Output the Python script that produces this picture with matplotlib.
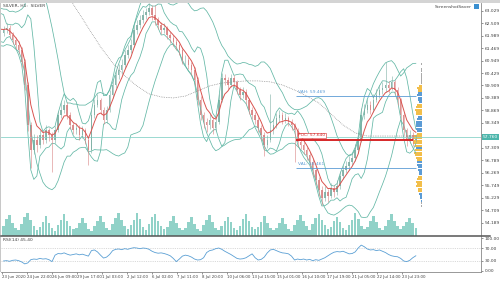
import numpy as np
import pandas as pd
import matplotlib
matplotlib.use("Agg")
import matplotlib.pyplot as plt
from matplotlib.patches import Rectangle
from matplotlib.lines import Line2D

# ---------------- data ----------------
title_text = "SILVER, H1:  SILVER"
saver_text = "ScreenshotSaver"

pre_closes = [62.60, 61.90, 62.85, 62.05, 62.70, 61.70, 62.55, 62.95, 61.95, 62.45, 62.80, 61.95, 62.35, 62.10]

closes = [62.22, 62.31, 62.02, 61.81, 61.60, 61.39, 60.89, 59.93, 58.26, 57.22,
          57.64, 57.43, 57.85, 57.64, 58.05, 57.85, 57.64, 58.05, 58.68, 58.89,
          59.10, 58.68, 58.26, 58.05, 58.14, 57.85, 58.05, 57.64, 57.22, 58.68,
          59.10, 59.31, 58.89, 58.47, 58.89, 59.51, 59.93, 60.35, 60.56, 60.76,
          61.18, 61.39, 61.60, 62.22, 62.43, 62.64, 62.85, 62.98, 63.14, 62.85,
          62.64, 62.43, 62.22, 62.31, 62.02, 61.89, 61.72, 61.60, 61.39, 60.97,
          60.97, 60.76, 60.56, 60.14, 59.31, 58.68, 58.39, 58.26, 58.47, 58.14,
          58.39, 59.31, 60.22, 60.14, 59.93, 60.22, 60.06, 59.72, 59.51, 59.64,
          59.31, 58.89, 58.68, 58.47, 58.14, 57.85, 57.43, 57.64, 58.05, 58.26,
          58.55, 58.68, 58.47, 58.55, 58.39, 58.26, 58.05, 57.55, 57.43, 57.22,
          57.01, 56.72, 56.39, 55.97, 55.55, 55.22, 55.47, 55.30, 55.64, 55.47,
          55.72, 56.14, 56.39, 56.55, 56.72, 56.89, 57.22, 57.64, 58.68, 58.89,
          59.10, 58.89, 59.31, 59.51, 59.72, 59.81, 59.93, 59.81, 60.06, 59.72,
          59.31, 58.68, 58.05, 57.64, 57.85, 57.64, 57.76]

highs = [62.40, 62.50, 62.42, 62.15, 61.95, 61.75, 61.50, 61.00, 60.05, 58.40,
         57.90, 57.85, 58.05, 58.00, 58.25, 58.15, 57.95, 58.20, 58.85, 59.20,
         59.30, 59.20, 58.80, 58.40, 58.35, 58.25, 58.20, 58.15, 57.75, 58.90,
         59.35, 59.55, 59.40, 59.00, 59.05, 59.70, 60.15, 60.55, 60.80, 61.00,
         61.40, 61.60, 61.85, 62.45, 62.65, 62.85, 63.05, 63.15, 63.35, 63.25,
         63.25, 62.75, 62.55, 62.50, 62.40, 62.15, 62.00, 61.85, 61.70, 61.50,
         61.20, 61.10, 60.90, 60.70, 60.25, 59.45, 58.80, 58.55, 58.70, 58.60,
         58.60, 59.55, 60.45, 60.40, 60.25, 60.40, 60.35, 60.15, 59.85, 59.85,
         59.75, 59.40, 59.00, 58.80, 58.60, 58.25, 57.95, 57.85, 59.55, 58.50,
         58.75, 58.90, 58.80, 58.75, 58.65, 58.50, 58.35, 58.15, 57.70, 57.55,
         57.35, 57.15, 56.85, 56.50, 56.10, 55.70, 55.70, 55.60, 55.85, 55.75,
         55.95, 56.35, 56.60, 56.75, 56.95, 57.10, 57.45, 57.90, 58.95, 59.15,
         59.35, 59.25, 59.55, 59.75, 59.95, 60.05, 60.89, 60.10, 60.30, 60.15,
         59.85, 59.40, 58.80, 58.15, 58.05, 57.95, 57.90]

lows = [61.98, 62.10, 61.90, 61.65, 61.45, 61.25, 60.70, 59.70, 58.00, 56.45,
        57.05, 57.15, 57.30, 57.45, 57.50, 57.60, 56.30, 57.50, 57.95, 58.55,
        58.75, 58.50, 58.10, 57.90, 57.90, 57.65, 57.70, 57.45, 56.60, 57.10,
        58.55, 59.00, 58.70, 58.30, 58.35, 58.80, 59.40, 59.80, 60.20, 60.40,
        60.65, 61.05, 61.25, 61.50, 62.05, 62.30, 62.50, 62.70, 62.85, 62.65,
        62.45, 62.25, 62.05, 62.10, 61.85, 61.70, 61.55, 61.40, 61.20, 60.80,
        60.75, 60.60, 60.35, 59.95, 59.10, 58.45, 58.15, 57.95, 58.10, 57.90,
        58.00, 58.30, 59.20, 59.95, 59.75, 59.85, 59.90, 59.55, 59.30, 59.40,
        59.15, 58.70, 58.50, 58.30, 57.95, 57.65, 56.95, 57.30, 57.55, 57.90,
        58.15, 58.40, 58.30, 58.35, 58.20, 58.05, 56.70, 57.35, 57.25, 57.05,
        56.80, 56.50, 56.15, 55.75, 55.30, 54.93, 55.10, 55.05, 55.20, 55.25,
        55.35, 55.60, 56.00, 56.25, 56.40, 56.60, 56.75, 57.10, 57.55, 58.50,
        58.75, 58.70, 58.80, 59.20, 59.40, 59.55, 59.65, 59.60, 59.70, 59.55,
        59.10, 58.45, 57.85, 57.40, 57.50, 57.40, 57.55]

volumes = [45, 72, 92, 58, 33, 24, 52, 83, 100, 68, 41, 28,
           38, 62, 86, 57, 36, 22, 47, 70, 93, 64, 42, 30,
           34, 57, 78, 55, 29, 20, 42, 66, 88, 61, 35, 26,
           50, 77, 97, 71, 44, 31, 46, 69, 99, 74, 39, 28,
           52, 81, 94, 63, 41, 29, 38, 64, 87, 56, 33, 24,
           36, 59, 82, 53, 31, 23, 46, 71, 91, 62, 36, 26,
           41, 63, 84, 61, 34, 24, 44, 72, 96, 66, 40, 29,
           39, 61, 86, 54, 36, 25, 35, 56, 79, 51, 31, 22,
           46, 69, 92, 64, 41, 28, 51, 76, 95, 69, 46, 31,
           39, 66, 84, 59, 34, 26, 47, 71, 98, 73, 41, 30,
           40, 64, 86, 61, 35, 24, 44, 70, 94, 64, 41, 29,
           42, 61, 79, 56, 36]

rsi_values = [30, 31, 29, 32, 33, 31, 27, 21, 24, 34, 36, 35, 38, 36, 37, 34, 28, 48, 53, 52,
              55, 51, 48, 50, 52, 49, 51, 48, 45, 62, 64, 58, 48, 39, 42, 50, 62, 66, 67, 65,
              68, 66, 69, 71, 70, 68, 70, 69, 66, 60, 56, 54, 55, 53, 50, 46, 38, 28, 36, 45,
              48, 46, 42, 36, 33, 34, 40, 56, 62, 64, 68, 70, 66, 60, 55, 50, 44, 38, 36, 37,
              40, 46, 52, 40, 33, 35, 42, 55, 64, 66, 62, 58, 55, 54, 52, 45, 33, 36, 34, 36,
              33, 35, 31, 34, 32, 36, 40, 46, 52, 57, 59, 58, 60, 56, 52, 53, 58, 70, 79, 74,
              67, 64, 65, 62, 64, 60, 56, 50, 46, 44, 43, 38, 30, 28, 32, 40, 46]

# slow moving average, one value for every 4th bar
slow_ma = [67.65, 67.02, 66.31, 65.56, 64.73, 63.89, 63.10, 62.31, 61.52, 60.85,
           60.31, 59.89, 59.56, 59.43, 59.39, 59.47, 59.68, 59.89, 60.01, 60.06,
           60.10, 60.10, 60.06, 59.93, 59.72, 59.47, 59.18, 58.72, 58.26, 57.93,
           57.80, 57.80, 57.80, 57.80, 57.80]

price_ticks = [63.029, 62.509, 61.989, 61.469, 60.949, 60.429, 59.909, 59.389, 58.869,
               58.349, 57.829, 57.309, 56.789, 56.269, 55.749, 55.229, 54.709, 54.189]

date_labels = ["23 Jun 2020", "24 Jun 22:00", "26 Jun 09:00", "29 Jun 17:00", "1 Jul 03:00",
               "2 Jul 12:00", "6 Jul 02:00", "7 Jul 11:00", "8 Jul 20:00", "10 Jul 06:00",
               "13 Jul 15:00", "15 Jul 01:00", "16 Jul 10:00", "17 Jul 19:00", "21 Jul 05:00",
               "22 Jul 14:00", "23 Jul 23:00"]

rsi_ticks = [0, 30, 70, 100]
rsi_label = "RSI(14) 45.40"

current_price = 57.76
vah_price, poc_price, val_price = 59.469, 57.640, 56.461

profile_levels = [61.0, 60.9, 60.8, 60.7, 60.6, 60.5, 60.4, 60.3, 60.2, 60.1, 60.0,
                  59.9, 59.8, 59.7, 59.6, 59.5, 59.4, 59.3, 59.2, 59.1, 59.0,
                  58.9, 58.8, 58.7, 58.6, 58.5, 58.4, 58.3, 58.2, 58.1, 58.0,
                  57.9, 57.8, 57.7, 57.6, 57.5, 57.4, 57.3, 57.2, 57.1, 57.0,
                  56.9, 56.8, 56.7, 56.6, 56.5, 56.4, 56.3, 56.2, 56.1, 56.0,
                  55.9, 55.8, 55.7, 55.6, 55.5, 55.4, 55.3, 55.2, 55.1, 55.0, 54.9]
profile_volume = [.04, .04, .05, .04, .05, .05, .06, .05, .06, .08, .10,
                  .35, .50, .40, .45, .50, .42, .48, .30, .55, .70,
                  .75, .68, .60, .40, .55, .65, .60, .70, .62, .50,
                  .55, .85, .95, 1.0, .95, .80, .60, .75, .85, .80,
                  .70, .55, .50, .55, .45, .40, .30, .35, .45, .55,
                  .60, .55, .60, .45, .40, .30, .25, .20, .15, .10, .06]
profile_side = list("ggggggggggg" "ooobbbbboo" "ooobbbbbbb" "oooooobooo" "oobbbbbboo" "ooooobbbbgg")

# ---------------- style ----------------
C_UP = "#7fb0a5"
C_DN = "#d98484"
C_BAND = "#62b7a5"
C_MA = "#d9534f"
C_VOL = "#6cc3b6"
C_RSI = "#5a9fd4"
C_CUR = "#8ad3ca"
C_BLUE = "#5b9bd5"
C_ORANGE = "#f2be4a"
TXT = "#404040"
FS = 3.2
FS_X = 2.75

BAR_HOURS = 4
TICK_HOURS = 33
PROFILE_RIGHT = 554
PROFILE_SCALE = 12
LEVELS_START, LEVELS_END = 388, 546

n_pre = len(pre_closes)
all_close = pd.Series(pre_closes + closes, dtype=float)
idx_all = np.arange(-n_pre, len(closes))
x_all = idx_all * BAR_HOURS + BAR_HOURS / 2
x = x_all[n_pre:]

opens = np.array([pre_closes[-1]] + closes[:-1])
c = np.array(closes)
h = np.array(highs)
l = np.array(lows)

def bands(series, n, k=2.0):
    m = series.rolling(n).mean()
    s = series.rolling(n).std(ddof=0)
    return m + k * s, m - k * s

bb1_up, bb1_dn = bands(all_close, 5)
bb2_up, bb2_dn = bands(all_close, 14)
ema = all_close.ewm(span=5, adjust=False).mean()

W, H = 500, 281
fig = plt.figure(figsize=(W / 100, H / 100), dpi=100)
fig.patch.set_facecolor("white")

def fx(px):
    return px / W

def fy(py):
    return 1 - py / H

XL = (-1.3, 632)

axv = fig.add_axes([fx(1), fy(236), fx(480), 26 / H])
ax = fig.add_axes([fx(1), fy(236), fx(480), 233 / H])
ar = fig.add_axes([fx(1), fy(272), fx(480), 35 / H])
for a in (ax, axv):
    a.set_facecolor("none")
axv.axis("off")

# volume
axv.bar(x, volumes, width=BAR_HOURS * 0.85, color=C_VOL, alpha=0.75, linewidth=0)
axv.set_xlim(*XL)
axv.set_ylim(0, 112)

# price
ax.set_xlim(*XL)
ax.set_ylim(53.63, 63.35)
ax.plot(x_all, bb2_up, color=C_BAND, lw=0.55)
ax.plot(x_all, bb2_dn, color=C_BAND, lw=0.55)
ax.plot(x_all, bb1_up, color=C_BAND, lw=0.55)
ax.plot(x_all, bb1_dn, color=C_BAND, lw=0.55)
ax.plot(x[::4], slow_ma, color="#777777", lw=0.5, ls=(0, (1, 1.5)))
ax.axhline(current_price, color=C_CUR, lw=0.6)

up = c >= opens
cols = np.where(up, C_UP, C_DN)
ax.vlines(x, l, h, colors=cols, lw=0.45, alpha=0.9)
ax.bar(x, np.maximum(np.abs(c - opens), 0.02), bottom=np.minimum(c, opens),
       width=BAR_HOURS * 0.5, color=cols, linewidth=0, alpha=0.9)
ax.plot(x_all, ema, color=C_MA, lw=0.7)

# value area levels
ax.hlines([vah_price, val_price], LEVELS_START, LEVELS_END, color=C_BLUE, lw=0.6)
ax.hlines(poc_price, LEVELS_START, LEVELS_END - 4, color="#d62728", lw=1.4)
ax.text(LEVELS_START + 3, vah_price + 0.08, f"VAH: {vah_price:.3f}", fontsize=FS, color=C_BLUE, va="bottom")
ax.text(LEVELS_START + 3, val_price + 0.08, f"VAL: {val_price:.3f}", fontsize=FS, color=C_BLUE, va="bottom")
ax.text(LEVELS_START + 3, poc_price + 0.1, f"POC: {poc_price:.3f}", fontsize=FS, color="#d62728", va="bottom",
        bbox=dict(facecolor="white", edgecolor="#d62728", lw=0.4, pad=0.4))

# volume profile
pcol = {"o": C_ORANGE, "b": C_BLUE, "g": "#aaaaaa"}
ax.barh(profile_levels, [-v * PROFILE_SCALE for v in profile_volume], left=PROFILE_RIGHT,
        height=0.085, color=[pcol[s] for s in profile_side], linewidth=0)

# axes styling price
for s in ("top", "left", "bottom"):
    ax.spines[s].set_visible(False)
ax.spines["right"].set_color("#888888")
ax.spines["right"].set_linewidth(0.6)
ax.yaxis.tick_right()
ax.set_yticks(price_ticks)
ax.set_yticklabels(["" if abs(t - current_price) < 0.15 else f"{t:.3f}" for t in price_ticks])
ax.tick_params(axis="y", labelsize=FS, colors=TXT, length=1.5, width=0.4, pad=1)
ax.tick_params(axis="x", bottom=False, labelbottom=False)
ax.text(1.004, current_price, f"{current_price:.3f}", transform=ax.get_yaxis_transform(),
        fontsize=FS, color="white", va="center", ha="left", zorder=10,
        bbox=dict(facecolor="#4db6ac", edgecolor="none", pad=0.6))

# RSI
ar.set_xlim(*XL)
ar.set_ylim(-4, 104)
for lvl in (30, 70):
    ar.axhline(lvl, color="#bbbbbb", lw=0.4, ls=(0, (2, 2)))
ar.plot(x, np.array(rsi_values, dtype=float), color=C_RSI, lw=0.6, zorder=5)
for s in ("top", "left"):
    ar.spines[s].set_visible(False)
for s in ("right", "bottom"):
    ar.spines[s].set_color("#888888")
    ar.spines[s].set_linewidth(0.6)
ar.yaxis.tick_right()
ar.set_yticks(rsi_ticks)
ar.set_yticklabels([f"{t:.2f}" for t in rsi_ticks])
ar.tick_params(axis="y", labelsize=FS, colors=TXT, length=1.5, width=0.4, pad=1)
tick_pos = [k * TICK_HOURS for k in range(len(date_labels))]
ar.set_xticks(tick_pos)
ar.set_xticklabels(date_labels, ha="left")
ar.tick_params(axis="x", labelsize=FS_X, colors=TXT, length=1.5, width=0.4, pad=1)
ar.text(0.004, 0.97, rsi_label, transform=ar.transAxes, fontsize=FS, color=TXT, va="top")

# frame decorations
fig.add_artist(Rectangle((0, fy(3)), 1, 3 / H, transform=fig.transFigure, color="#d4d4d4", lw=0))
fig.add_artist(Rectangle((0, fy(272)), fx(1.2), 269 / H, transform=fig.transFigure, color="#c8c8c8", lw=0))
fig.add_artist(Line2D([fx(1), fx(490)], [fy(236.3), fy(236.3)], transform=fig.transFigure, color="#555555", lw=1.1))
fig.text(fx(3), fy(8), title_text, fontsize=FS, color=TXT, va="bottom")
fig.text(fx(472), fy(9), saver_text, fontsize=FS, color=TXT, va="bottom", ha="right")
fig.add_artist(Rectangle((fx(474), fy(9)), fx(5), 5 / H, transform=fig.transFigure, color="#3a8fd0", lw=0))

fig.savefig("out.png", dpi=100)
